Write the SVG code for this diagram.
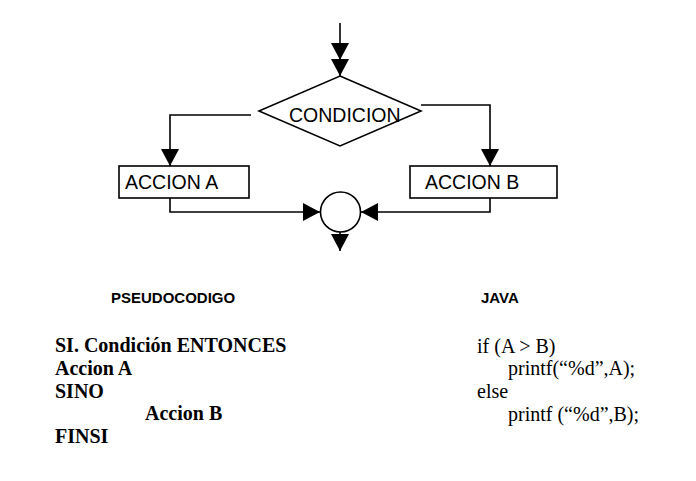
<svg xmlns="http://www.w3.org/2000/svg" width="696" height="481" viewBox="0 0 696 481">
<style>
.ln{fill:none;stroke:#000;stroke-width:1.6}
.sh{fill:#fff;stroke:#000;stroke-width:1.6}
.lbl{font-family:"Liberation Sans",Arial,sans-serif;font-size:19.5px;fill:#000}
.hd{font-family:"Liberation Sans",Arial,sans-serif;font-size:15px;font-weight:bold;fill:#000}
.ps{font-family:"Liberation Serif","Times New Roman",serif;font-size:20px;font-weight:bold;fill:#000}
.jv{font-family:"Liberation Serif","Times New Roman",serif;font-size:20px;fill:#000}
</style>
<defs>
<marker id="ah" markerUnits="userSpaceOnUse" markerWidth="17" markerHeight="18" refX="17" refY="9" orient="auto" viewBox="0 0 17 18">
<path d="M0,0 L17,9 L0,18 z" fill="#000"/>
</marker>
</defs>
<rect width="696" height="481" fill="#fff"/>
<g id="connectors">
<path class="ln" d="M340,23 L340,60" marker-end="url(#ah)"/>
<path class="ln" d="M340,59 L340,76" marker-end="url(#ah)"/>
<path class="ln" d="M251,115 L170,115 L170,166" marker-end="url(#ah)"/>
<path class="ln" d="M421,105 L490,105 L490,166" marker-end="url(#ah)"/>
<path class="ln" d="M170,198 L170,212 L320,212" marker-end="url(#ah)"/>
<path class="ln" d="M490,198 L490,212 L361,212" marker-end="url(#ah)"/>
<path class="ln" d="M340,232 L340,251" marker-end="url(#ah)"/>
</g>
<g id="condicion">
<polygon class="sh" points="340,76 421,111 340,146 259,111"/>
<text class="lbl" x="289" y="122">CONDICION</text>
</g>
<g id="accionA">
<rect class="sh" x="119" y="166" width="130" height="32"/>
<text class="lbl" x="125" y="189">ACCION A</text>
</g>
<g id="accionB">
<rect class="sh" x="410" y="166" width="147" height="32"/>
<text class="lbl" x="425" y="189">ACCION B</text>
</g>
<g id="union">
<circle class="sh" cx="340.5" cy="212" r="20"/>
</g>
<g id="pseudocodigo">
<text class="hd" x="111" y="303">PSEUDOCODIGO</text>
<text class="ps" x="55" y="352">SI. Condición ENTONCES</text>
<text class="ps" x="55" y="375">Accion A</text>
<text class="ps" x="55" y="398">SINO</text>
<text class="ps" x="145" y="420">Accion B</text>
<text class="ps" x="55" y="443">FINSI</text>
</g>
<g id="java">
<text class="hd" x="481" y="303">JAVA</text>
<text class="jv" x="477" y="353">if (A &gt; B)</text>
<text class="jv" x="508" y="375">printf(“%d”,A);</text>
<text class="jv" x="477" y="398">else</text>
<text class="jv" x="508" y="421">printf (“%d”,B);</text>
</g>
</svg>
